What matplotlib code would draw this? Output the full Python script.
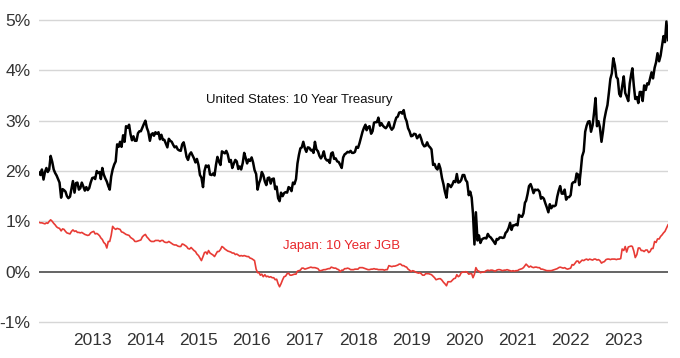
import matplotlib
matplotlib.use("Agg")
import matplotlib.pyplot as plt
import matplotlib.dates as mdates
import numpy as np
import pandas as pd

plt.rcParams['font.family'] = ['Liberation Sans', 'DejaVu Sans']

# Observation dates: 1st, 11th, 21st of each month, Jan 2012 .. Nov 1 2023
start_year, end_year = 2012, 2023

# US 10 Year Treasury yield (%), three readings per month
us_2012 = [1.97,1.92,2.03, 1.83,1.98,2.06, 1.98,2.03,2.30, 2.18,2.03,1.96, 1.91,1.84,1.77, 1.47,1.64,1.62,
           1.59,1.50,1.46, 1.49,1.65,1.80, 1.57,1.76,1.77, 1.63,1.66,1.77, 1.69,1.61,1.68, 1.62,1.66,1.77]
us_2013 = [1.86,1.87,1.84, 2.00,1.96,1.98, 1.84,2.06,1.93, 1.85,1.79,1.70, 1.63,1.89,2.03, 2.13,2.19,2.53,
           2.48,2.58,2.48, 2.71,2.58,2.89, 2.86,2.92,2.73, 2.61,2.69,2.60, 2.60,2.75,2.79, 2.79,2.86,2.93]
us_2014 = [3.00,2.86,2.78, 2.60,2.73,2.75, 2.70,2.77,2.74, 2.77,2.63,2.72, 2.62,2.62,2.55, 2.47,2.64,2.60,
           2.58,2.52,2.47, 2.49,2.43,2.41, 2.40,2.53,2.57, 2.44,2.28,2.22, 2.33,2.37,2.31, 2.25,2.17,2.24]
us_2015 = [2.12,1.92,1.87, 1.68,2.00,2.11, 2.08,2.11,1.93, 1.92,1.95,1.91, 2.12,2.28,2.19, 2.12,2.39,2.37,
           2.35,2.40,2.33, 2.18,2.22,2.06, 2.15,2.22,2.19, 2.04,2.09,2.03, 2.16,2.36,2.26, 2.15,2.23,2.20]
us_2016 = [2.27,2.17,2.02, 1.94,1.63,1.76, 1.83,1.98,1.92, 1.79,1.72,1.86, 1.87,1.75,1.84, 1.85,1.64,1.69,
           1.46,1.40,1.57, 1.50,1.56,1.58, 1.57,1.68,1.66, 1.60,1.77,1.74, 1.84,2.15,2.32, 2.45,2.47,2.58]
us_2017 = [2.45,2.38,2.47, 2.46,2.41,2.42, 2.36,2.58,2.43, 2.39,2.30,2.25, 2.30,2.39,2.25, 2.21,2.22,2.16,
           2.35,2.37,2.24, 2.25,2.19,2.18, 2.12,2.06,2.27, 2.33,2.35,2.38, 2.37,2.40,2.36, 2.36,2.38,2.48]
us_2018 = [2.46,2.55,2.66, 2.78,2.86,2.92, 2.81,2.87,2.89, 2.74,2.79,2.96, 2.97,2.97,3.06, 2.90,2.95,2.90,
           2.87,2.85,2.89, 2.97,2.87,2.82, 2.86,2.97,3.06, 3.08,3.16,3.17, 3.14,3.21,3.06, 2.99,2.85,2.79]
us_2019 = [2.69,2.70,2.74, 2.73,2.65,2.69, 2.72,2.64,2.54, 2.49,2.50,2.57, 2.50,2.47,2.43, 2.12,2.14,2.06,
           2.03,2.14,2.05, 1.86,1.74,1.59, 1.47,1.74,1.72, 1.68,1.73,1.80, 1.78,1.94,1.77, 1.78,1.82,1.92]
us_2020 = [1.92,1.82,1.78, 1.52,1.59,1.47, 1.15,0.54,1.18, 0.62,0.72,0.57, 0.64,0.66,0.67, 0.66,0.75,0.70,
           0.68,0.64,0.60, 0.55,0.65,0.64, 0.68,0.68,0.67, 0.68,0.77,0.80, 0.87,0.97,0.83, 0.92,0.92,0.94]
us_2021 = [0.92,1.13,1.10, 1.09,1.16,1.37, 1.41,1.54,1.70, 1.74,1.66,1.56, 1.63,1.62,1.63, 1.59,1.45,1.48,
           1.45,1.36,1.28, 1.18,1.34,1.26, 1.31,1.30,1.32, 1.49,1.61,1.70, 1.55,1.55,1.63, 1.43,1.48,1.48]
us_2022 = [1.52,1.75,1.78, 1.78,1.95,1.93, 1.72,1.99,2.29, 2.39,2.78,2.90, 2.98,2.99,2.78, 2.91,3.16,3.45,
           2.89,2.99,2.87, 2.58,2.78,3.03, 3.19,3.31,3.56, 3.83,3.94,4.24, 4.10,3.87,3.83, 3.53,3.48,3.68]
us_2023 = [3.88,3.55,3.48, 3.39,3.74,3.92, 4.04,3.70,3.43, 3.47,3.35,3.57, 3.57,3.39,3.70, 3.61,3.74,3.72,
           3.84,3.96,3.84, 4.05,4.16,4.34, 4.18,4.29,4.49, 4.68,4.56,4.97, 4.60]

# Japan 10 Year JGB yield (%), three readings per month
jp_2012 = [0.98,0.97,0.97, 0.96,0.95,0.97, 0.96,1.00,1.03, 1.00,0.96,0.93, 0.89,0.87,0.86, 0.81,0.85,0.84,
           0.80,0.77,0.76, 0.75,0.80,0.83, 0.80,0.81,0.78, 0.78,0.77,0.78, 0.76,0.74,0.73, 0.72,0.73,0.77]
jp_2013 = [0.79,0.80,0.75, 0.76,0.74,0.71, 0.67,0.64,0.58, 0.55,0.47,0.60, 0.60,0.72,0.90, 0.86,0.84,0.86,
           0.85,0.84,0.79, 0.78,0.76,0.74, 0.73,0.72,0.68, 0.66,0.64,0.60, 0.60,0.61,0.62, 0.63,0.69,0.72]
jp_2014 = [0.74,0.69,0.66, 0.62,0.60,0.60, 0.60,0.62,0.62, 0.62,0.60,0.62, 0.62,0.59,0.58, 0.58,0.60,0.58,
           0.56,0.54,0.53, 0.53,0.51,0.50, 0.50,0.55,0.54, 0.52,0.50,0.46, 0.45,0.48,0.45, 0.42,0.40,0.35]
jp_2015 = [0.32,0.27,0.22, 0.30,0.38,0.39, 0.35,0.42,0.37, 0.35,0.33,0.30, 0.35,0.40,0.40, 0.44,0.50,0.48,
           0.45,0.43,0.41, 0.40,0.39,0.37, 0.37,0.34,0.35, 0.33,0.31,0.32, 0.31,0.32,0.31, 0.30,0.30,0.27]
jp_2016 = [0.26,0.24,0.22, 0.05,-0.02,-0.02, -0.07,-0.05,-0.10, -0.06,-0.10,-0.09, -0.11,-0.10,-0.12,
           -0.12,-0.16,-0.15, -0.24,-0.30,-0.24, -0.16,-0.10,-0.09, -0.04,-0.03,-0.07, -0.07,-0.06,-0.05,
           -0.05,0.01,0.02, 0.03,0.07,0.07]
jp_2017 = [0.05,0.06,0.07, 0.08,0.09,0.08, 0.08,0.08,0.07, 0.06,0.02,0.02, 0.03,0.04,0.04, 0.05,0.06,0.06,
           0.09,0.08,0.07, 0.07,0.05,0.04, 0.00,0.03,0.03, 0.06,0.06,0.07, 0.06,0.04,0.04, 0.04,0.05,0.05]
jp_2018 = [0.05,0.08,0.08, 0.08,0.07,0.06, 0.05,0.04,0.04, 0.05,0.05,0.06, 0.05,0.05,0.04, 0.04,0.04,0.04,
           0.03,0.04,0.04, 0.12,0.11,0.10, 0.11,0.11,0.12, 0.13,0.15,0.15, 0.12,0.12,0.10, 0.09,0.05,0.03]
jp_2019 = [0.00,0.02,0.01, -0.01,-0.02,-0.03, -0.02,-0.04,-0.07, -0.07,-0.04,-0.04, -0.04,-0.05,-0.06,
           -0.09,-0.12,-0.16, -0.15,-0.14,-0.14, -0.17,-0.21,-0.24, -0.28,-0.20,-0.20, -0.20,-0.17,-0.14,
           -0.13,-0.06,-0.10, -0.08,-0.02,-0.01]
jp_2020 = [-0.01,0.00,-0.01, -0.05,-0.04,-0.04, -0.12,-0.05,0.08, 0.02,0.01,-0.02, -0.01,-0.01,0.00,
           0.02,0.03,0.02, 0.03,0.03,0.02, 0.01,0.03,0.04, 0.04,0.03,0.02, 0.03,0.03,0.04, 0.03,0.02,0.01,
           0.02,0.01,0.02]
jp_2021 = [0.02,0.04,0.05, 0.06,0.08,0.12, 0.15,0.12,0.09, 0.11,0.09,0.08, 0.09,0.09,0.08, 0.08,0.05,0.05,
           0.04,0.03,0.02, 0.02,0.02,0.02, 0.03,0.04,0.05, 0.06,0.08,0.09, 0.08,0.07,0.08, 0.06,0.05,0.06]
jp_2022 = [0.07,0.14,0.13, 0.17,0.21,0.21, 0.17,0.20,0.23, 0.22,0.24,0.25, 0.23,0.25,0.24, 0.23,0.25,0.25,
           0.23,0.24,0.22, 0.17,0.19,0.20, 0.24,0.25,0.25, 0.24,0.25,0.25, 0.25,0.24,0.25, 0.25,0.26,0.45]
jp_2023 = [0.42,0.50,0.39, 0.49,0.50,0.51, 0.50,0.41,0.28, 0.34,0.47,0.47, 0.42,0.42,0.40, 0.43,0.43,0.38,
           0.40,0.46,0.46, 0.60,0.58,0.65, 0.65,0.70,0.73, 0.77,0.80,0.86, 0.93]

us_series = us_2012 + us_2013 + us_2014 + us_2015 + us_2016 + us_2017 + us_2018 + us_2019 + us_2020 + us_2021 + us_2022 + us_2023
jp_series = jp_2012 + jp_2013 + jp_2014 + jp_2015 + jp_2016 + jp_2017 + jp_2018 + jp_2019 + jp_2020 + jp_2021 + jp_2022 + jp_2023

dates = []
for y in range(start_year, end_year + 1):
    for m in range(1, 13):
        for d in (1, 11, 21):
            dates.append(pd.Timestamp(y, m, d))
n = len(us_series)
dates = dates[:n]
assert len(jp_series) == n

y_ticks = [-1, 0, 1, 2, 3, 4, 5]
y_tick_labels = ['-1%', '0%', '1%', '2%', '3%', '4%', '5%']
x_years = list(range(2013, 2024))
us_label = 'United States: 10 Year Treasury'
jp_label = 'Japan: 10 Year JGB'

W, H = 680, 358
fig = plt.figure(figsize=(W / 100, H / 100), dpi=100)
left_px, right_px = 39, 668
ymin, ymax = -1.05, 5.1
px_per_unit = 302 / 6.0
top_px = 20 - (ymax - 5) * px_per_unit
bot_px = 322 + (-1 - ymin) * px_per_unit
ax = fig.add_axes([left_px / W, 1 - bot_px / H, (right_px - left_px) / W, (bot_px - top_px) / H])

ax.set_xlim(dates[0], dates[-1])
ax.set_ylim(ymin, ymax)

for t in y_ticks:
    if t == 0:
        continue
    ax.axhline(t, color='#d6d6d6', lw=1.0, zorder=1)
ax.axhline(0, color='#3a3a3a', lw=1.1, zorder=2)

ax.plot(dates, jp_series, color='#e83b35', lw=1.2, zorder=3)
ax.plot(dates, us_series, color='#000000', lw=1.8, zorder=4)

for s in ax.spines.values():
    s.set_visible(False)
ax.set_yticks(y_ticks)
ax.set_yticklabels(y_tick_labels)
ax.set_xticks([pd.Timestamp(y, 1, 1) for y in x_years])
ax.set_xticklabels([str(y) for y in x_years])
ax.tick_params(axis='both', length=0, labelsize=12.5, labelcolor='#333333')
ax.tick_params(axis='y', pad=6)
ax.tick_params(axis='x', pad=6)

ax.text(pd.Timestamp(2015, 2, 22), 3.42, us_label, fontsize=9.5, color='#111111',
        ha='left', va='center', zorder=5)
ax.text(pd.Timestamp(2016, 8, 4), 0.50, jp_label, fontsize=9.5, color='#e8262a',
        ha='left', va='center', zorder=5)

fig.savefig('out.png', dpi=100)
